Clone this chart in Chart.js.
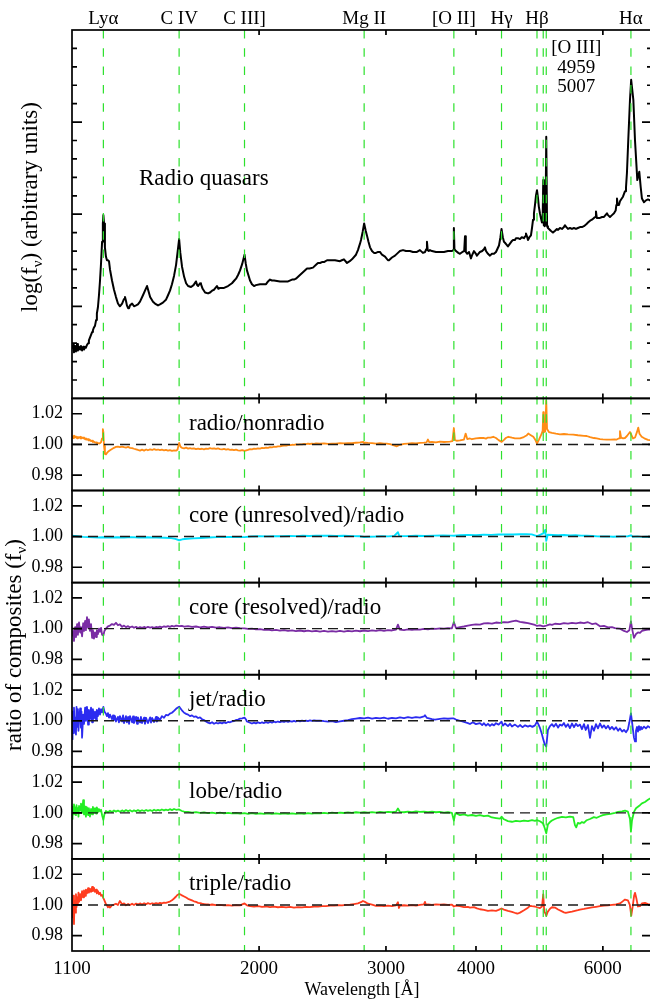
<!DOCTYPE html>
<html>
<head>
<meta charset="utf-8">
<script src="https://cdn.jsdelivr.net/npm/chart.js@4.4.1/dist/chart.umd.min.js"></script>
<style>
  html, body { margin: 0; padding: 0; background: #ffffff; overflow: hidden; }
  canvas { display: block; }
</style>
</head>
<body>
<canvas id="composites" width="656" height="1004" style="width:656px;height:1004px"></canvas>
<script>
// ---- emission lines marked across all panels (rest wavelength, Å) ----
const lineNames = ['Lyα', 'C IV', 'C III]', 'Mg II', '[O II]', 'Hγ', 'Hβ', 'Hα'];
const lineWaves = [1216, 1549, 1909, 2798, 3727, 4340, 4861, 6563];
const oiiiWaves = [4959, 5007];
const oiiiLabel = ['[O III]', '4959', '5007'];

// ---- axes ----
const waveRange = [1100, 7020];
const xTickValues = [1100, 2000, 3000, 4000, 6000];
const spectrumRange = [0, 4];
const spectrumMajorTicks = [1, 2, 3];
const spectrumMinorTicks = [0.2, 0.4, 0.6, 0.8, 1.2, 1.4, 1.6, 1.8, 2.2, 2.4, 2.6, 2.8, 3.2, 3.4, 3.6, 3.8];
const ratioRange = [0.97, 1.03];
const ratioTickValues = [0.98, 1.00, 1.02];

// ---- composite spectrum of radio quasars: [wavelength Å, log f_nu (arbitrary offset)] ----
const spectrumRadioQuasars = [
  [1100,0.54],[1104,0.58],[1107,0.50],[1111,0.57],[1114,0.51],[1118,0.59],[1121,0.52],[1125,0.56],[1129,0.53],[1132,0.57],
  [1136,0.52],[1140,0.56],[1143,0.53],[1147,0.56],[1150,0.55],[1154,0.58],[1158,0.60],[1161,0.63],[1165,0.66],[1169,0.69],
  [1173,0.72],[1176,0.74],[1180,0.77],[1184,0.79],[1188,0.85],[1191,0.92],[1195,0.99],[1199,1.12],[1203,1.28],[1207,1.47],
  [1211,1.70],[1214,1.90],[1216,1.99],[1218.5,1.90],[1222,1.64],[1226,1.54],[1230,1.50],[1234,1.50],[1238,1.49],[1242,1.40],
  [1250,1.28],[1258,1.18],[1266,1.10],[1274,1.03],[1282,1.00],[1291,1.03],[1299,1.08],[1303,1.10],[1307,1.06],[1311,1.01],
  [1316,0.98],[1320,0.98],[1324,1.01],[1333,1.03],[1341,1.00],[1350,1.01],[1358,1.02],[1367,1.05],[1380,1.12],[1389,1.17],
  [1398,1.22],[1405,1.16],[1412,1.10],[1425,1.05],[1434,1.03],[1448,1.01],[1457,1.02],[1471,1.04],[1485,1.07],[1495,1.12],
  [1504.5,1.17],[1514,1.24],[1524,1.33],[1534,1.45],[1541,1.58],[1549,1.73],[1555,1.58],[1563.5,1.43],[1574,1.32],[1584,1.25],
  [1594,1.22],[1609,1.21],[1622,1.23],[1635,1.27],[1641,1.23],[1646,1.22],[1656,1.25],[1661,1.24],[1670,1.19],[1683,1.15],
  [1699,1.14],[1710,1.15],[1721,1.17],[1732,1.18],[1748,1.22],[1756,1.19],[1765,1.20],[1788,1.20],[1811,1.22],[1834,1.25],
  [1848,1.28],[1858,1.30],[1870,1.34],[1882,1.39],[1895,1.46],[1909,1.56],[1917,1.46],[1924,1.39],[1943,1.28],[1955,1.24],
  [1968,1.22],[1980,1.23],[2006,1.24],[2032,1.24],[2045,1.24],[2058,1.27],[2071,1.29],[2084,1.28],[2098,1.28],[2138,1.27],
  [2166,1.27],[2194,1.27],[2222,1.29],[2236,1.29],[2250,1.30],[2279,1.34],[2309,1.38],[2331,1.41],[2350,1.41],[2376,1.42],
  [2399,1.45],[2414,1.47],[2430,1.47],[2445,1.48],[2461,1.48],[2485,1.50],[2525,1.50],[2549,1.50],[2590,1.49],[2605,1.50],
  [2623,1.51],[2649,1.47],[2672,1.49],[2691,1.51],[2726,1.56],[2743,1.61],[2761,1.68],[2770,1.72],[2785,1.81],[2798,1.90],
  [2812,1.82],[2823,1.77],[2837,1.70],[2851,1.64],[2869,1.60],[2887,1.58],[2906,1.58],[2925,1.59],[2943,1.59],[2962,1.56],
  [2991,1.54],[3019,1.50],[3029,1.50],[3058,1.53],[3088,1.55],[3117,1.58],[3137,1.60],[3168,1.61],[3198,1.60],[3239,1.60],
  [3270,1.59],[3302,1.59],[3312,1.59],[3344,1.61],[3376,1.58],[3400,1.59],[3412,1.62],[3420,1.70],[3428,1.61],[3440,1.60],
  [3453,1.61],[3475,1.60],[3520,1.59],[3565,1.59],[3611,1.59],[3657,1.60],[3704,1.60],[3720,1.61],[3727,1.85],[3734,1.62],
  [3752,1.60],[3780,1.58],[3800,1.57],[3830,1.59],[3852,1.60],[3862,1.76],[3872,1.59],[3890,1.57],[3912,1.59],[3936,1.52],
  [3948,1.55],[3974,1.60],[3999,1.57],[4012,1.55],[4051,1.59],[4080,1.60],[4103,1.62],[4116,1.64],[4130,1.60],[4156,1.57],
  [4183,1.55],[4209,1.57],[4237,1.57],[4264,1.59],[4305,1.66],[4325,1.75],[4340,1.84],[4358,1.75],[4374,1.70],[4388,1.69],
  [4410,1.67],[4430,1.65],[4459,1.68],[4487,1.71],[4502,1.72],[4530,1.72],[4545,1.74],[4574,1.74],[4604,1.73],[4630,1.75],
  [4663,1.74],[4680,1.76],[4693,1.79],[4708,1.76],[4723,1.72],[4745,1.75],[4768,1.77],[4784,1.85],[4800,1.94],[4814,2.01],
  [4830,2.10],[4845,2.20],[4861,2.26],[4876,2.18],[4890,2.08],[4907,2.01],[4925,1.95],[4939,1.91],[4950,1.94],[4959,2.37],
  [4968,1.88],[4983,1.87],[4995,1.90],[5007,2.84],[5020,1.87],[5034,1.85],[5051,1.84],[5080,1.82],[5099,1.81],[5116,1.80],
  [5150,1.82],[5180,1.84],[5200,1.83],[5231,1.85],[5265,1.84],[5298,1.86],[5315,1.88],[5340,1.86],[5367,1.84],[5401,1.85],
  [5436,1.84],[5470,1.85],[5506,1.84],[5540,1.85],[5577,1.86],[5612,1.86],[5648,1.87],[5690,1.89],[5721,1.91],[5760,1.93],
  [5794,1.94],[5832,1.96],[5855,1.97],[5869,2.03],[5885,1.96],[5907,1.96],[5945,1.96],[5985,1.97],[6021,1.97],[6050,1.99],
  [6079,2.01],[6099,1.99],[6138,1.97],[6177,1.99],[6217,2.01],[6250,2.04],[6265,2.10],[6277,2.17],[6290,2.10],[6317,2.10],
  [6337,2.14],[6360,2.16],[6398,2.19],[6419,2.22],[6440,2.25],[6460,2.29],[6480,2.45],[6507,2.80],[6543,3.24],[6568,3.46],
  [6614,3.24],[6649,2.80],[6698,2.37],[6741,2.46],[6772,2.29],[6798,2.17],[6842,2.13],[6886,2.15],[6930,2.16],[6975,2.15],
  [7020,2.16]
];

// ---- ratios of composites (f_nu): [wavelength Å, ratio] ----
const ratioRadioNonradio = [
  [1100,1.0055],[1104,1.0042],[1107,1.0058],[1111,1.0047],[1114,1.0052],[1118,1.0040],[1121,1.0049],[1125,1.0043],[1129,1.0050],[1132,1.0038],
  [1136,1.0045],[1140,1.0040],[1143,1.0046],[1147,1.0034],[1150,1.0040],[1154,1.0030],[1158,1.0035],[1161,1.0026],[1165,1.0030],[1169,1.0022],
  [1173,1.0025],[1176,1.0016],[1180,1.0018],[1184,1.0012],[1188,1.0014],[1191,1.0008],[1195,1.0010],[1199,1.0006],[1203,1.0008],[1207,1.0015],
  [1211,1.0040],[1214,1.0100],[1216,1.0080],[1218.5,0.9990],[1222,0.9938],[1226,0.9935],[1230,0.9945],[1234,0.9952],[1242,0.9962],[1250,0.9970],
  [1258,0.9978],[1266,0.9984],[1274,0.9986],[1282,0.9983],[1291,0.9986],[1299,0.9982],[1307,0.9980],[1316,0.9984],[1324,0.9978],[1333,0.9976],
  [1341,0.9972],[1350,0.9968],[1358,0.9964],[1367,0.9960],[1376,0.9966],[1385,0.9960],[1394,0.9967],[1402,0.9962],[1412,0.9968],[1421,0.9964],
  [1430,0.9969],[1439,0.9965],[1448,0.9967],[1457,0.9963],[1466,0.9966],[1476,0.9962],[1485,0.9965],[1495,0.9960],[1504,0.9963],[1514,0.9958],
  [1524,0.9962],[1534,0.9960],[1541,0.9965],[1549,1.0010],[1556,0.9985],[1563,0.9978],[1574,0.9975],[1584,0.9979],[1594,0.9973],[1604,0.9976],
  [1614,0.9972],[1624,0.9975],[1635,0.9970],[1646,0.9973],[1656,0.9969],[1667,0.9972],[1677,0.9968],[1688,0.9973],[1699,0.9971],[1710,0.9976],
  [1721,0.9972],[1732,0.9975],[1743,0.9971],[1754,0.9974],[1765,0.9970],[1777,0.9968],[1788,0.9971],[1800,0.9966],[1811,0.9969],[1823,0.9965],
  [1834,0.9967],[1846,0.9963],[1858,0.9966],[1870,0.9962],[1882,0.9960],[1895,0.9963],[1909,0.9958],[1920,0.9962],[1930,0.9965],[1943,0.9970],
  [1955,0.9968],[1968,0.9973],[1980,0.9971],[1993,0.9975],[2006,0.9973],[2019,0.9977],[2032,0.9976],[2045,0.9980],[2058,0.9978],[2071,0.9982],
  [2084,0.9981],[2098,0.9985],[2111,0.9984],[2124,0.9988],[2138,0.9987],[2152,0.9991],[2166,0.9993],[2180,0.9992],[2194,0.9996],[2208,0.9995],
  [2222,0.9998],[2236,0.9997],[2250,1.0000],[2265,0.9999],[2279,1.0001],[2294,1.0000],[2309,1.0003],[2323,1.0002],[2338,1.0005],[2353,1.0003],
  [2368,1.0006],[2384,1.0004],[2399,1.0007],[2430,1.0005],[2461,1.0007],[2493,1.0004],[2525,1.0006],[2557,1.0005],[2590,1.0008],[2623,1.0007],
  [2657,1.0009],[2691,1.0008],[2726,1.0011],[2761,1.0014],[2790,1.0017],[2798,1.0008],[2806,1.0012],[2833,1.0010],[2869,1.0008],[2906,1.0006],
  [2943,1.0008],[2981,1.0005],[3007,1.0006],[3040,1.0002],[3070,0.9996],[3107,0.9988],[3137,0.9998],[3178,1.0004],[3218,1.0006],[3260,1.0008],
  [3302,1.0007],[3344,1.0010],[3387,1.0012],[3415,1.0014],[3431,1.0032],[3445,1.0015],[3475,1.0016],[3520,1.0014],[3565,1.0018],[3611,1.0016],
  [3642,1.0017],[3680,1.0019],[3710,1.0022],[3727,1.0107],[3740,1.0028],[3760,1.0024],[3800,1.0026],[3849,1.0032],[3870,1.0071],[3890,1.0035],
  [3924,1.0039],[3948,1.0034],[3999,1.0040],[4051,1.0042],[4094,1.0043],[4130,1.0038],[4156,1.0045],[4190,1.0044],[4227,1.0050],[4264,1.0042],
  [4300,1.0028],[4342,1.0017],[4374,1.0030],[4400,1.0042],[4435,1.0050],[4487,1.0044],[4531,1.0040],[4604,1.0039],[4660,1.0048],[4700,1.0058],
  [4727,1.0071],[4760,1.0062],[4804,1.0050],[4835,1.0030],[4861,1.0006],[4890,1.0030],[4934,1.0070],[4950,1.0090],[4959,1.0210],[4968,1.0080],
  [4990,1.0085],[5007,1.0286],[5020,1.0100],[5050,1.0081],[5099,1.0075],[5165,1.0070],[5231,1.0066],[5298,1.0068],[5367,1.0065],[5458,1.0064],
  [5540,1.0060],[5648,1.0056],[5698,1.0055],[5760,1.0048],[5830,1.0042],[5883,1.0039],[5945,1.0035],[6000,1.0033],[6074,1.0032],[6150,1.0031],
  [6230,1.0033],[6271,1.0032],[6320,1.0040],[6337,1.0086],[6360,1.0045],[6400,1.0040],[6439,1.0042],[6480,1.0055],[6543,1.0081],[6560,1.0070],
  [6606,1.0039],[6650,1.0045],[6690,1.0080],[6719,1.0110],[6745,1.0070],[6792,1.0050],[6850,1.0040],[6930,1.0030],[6975,1.0028],[7020,1.0028]
];

const ratioCoreUnresolved = [
  [1100,1.0006],[1120,1.0002],[1140,0.9998],[1160,0.9996],[1180,0.9995],[1200,0.9994],[1216,0.9995],[1240,0.9993],[1270,0.9995],[1300,0.9994],
  [1330,0.9996],[1360,0.9994],[1400,0.9995],[1440,0.9993],[1480,0.9992],[1510,0.9990],[1530,0.9985],[1549,0.9976],[1565,0.9982],[1590,0.9986],
  [1620,0.9988],[1660,0.9991],[1700,0.9994],[1750,0.9996],[1800,0.9997],[1850,0.9998],[1909,0.9996],[1950,1.0000],[2000,1.0002],[2050,1.0001],
  [2100,1.0003],[2150,1.0002],[2200,1.0004],[2250,1.0003],[2300,1.0005],[2350,1.0004],[2400,1.0006],[2450,1.0005],[2500,1.0006],[2560,1.0004],
  [2620,1.0005],[2700,1.0003],[2760,1.0002],[2798,0.9997],[2840,0.9999],[2900,1.0000],[2960,1.0002],[3020,1.0001],[3080,1.0004],[3117,1.0028],
  [3130,1.0004],[3200,1.0003],[3300,1.0005],[3400,1.0004],[3500,1.0006],[3600,1.0007],[3700,1.0006],[3727,1.0005],[3800,1.0008],[3900,1.0010],
  [4000,1.0009],[4100,1.0012],[4200,1.0011],[4300,1.0013],[4400,1.0014],[4500,1.0013],[4600,1.0015],[4700,1.0016],[4780,1.0014],[4861,1.0003],
  [4900,1.0010],[4959,1.0020],[4990,1.0043],[5007,0.9972],[5030,1.0012],[5100,1.0010],[5200,1.0008],[5300,1.0010],[5400,1.0007],[5500,1.0008],
  [5600,1.0006],[5700,1.0005],[5800,1.0004],[5900,1.0001],[6000,1.0000],[6100,1.0001],[6200,0.9999],[6300,1.0000],[6400,1.0001],[6500,1.0002],
  [6563,1.0008],[6600,0.9999],[6700,1.0001],[6800,0.9998],[6900,0.9999],[7020,0.9998]
];

const ratioCoreResolved = [
  [1100,0.9950],[1104,0.9985],[1107,0.9920],[1111,1.0010],[1114,0.9945],[1118,1.0030],[1121,0.9960],[1125,1.0040],[1129,0.9975],[1132,1.0010],
  [1136,0.9950],[1140,1.0035],[1143,0.9985],[1147,1.0050],[1150,0.9990],[1154,1.0075],[1158,1.0005],[1161,1.0060],[1165,0.9985],[1169,1.0030],
  [1173,0.9940],[1176,0.9990],[1180,0.9935],[1184,0.9975],[1188,0.9945],[1191,0.9990],[1195,0.9965],[1199,1.0000],[1203,0.9980],[1207,1.0005],
  [1211,0.9960],[1216,0.9955],[1220,0.9985],[1226,1.0000],[1234,1.0015],[1242,1.0020],[1250,1.0030],[1258,1.0025],[1266,1.0038],[1274,1.0022],
  [1282,1.0028],[1291,1.0012],[1299,1.0020],[1307,1.0010],[1316,1.0016],[1324,1.0008],[1333,1.0014],[1341,1.0006],[1350,1.0012],[1358,1.0004],
  [1367,1.0010],[1376,1.0005],[1385,1.0011],[1394,1.0006],[1402,1.0012],[1412,1.0007],[1421,1.0010],[1430,1.0005],[1439,1.0011],[1448,1.0008],
  [1457,1.0013],[1466,1.0009],[1476,1.0015],[1485,1.0011],[1495,1.0016],[1504,1.0012],[1514,1.0018],[1524,1.0014],[1534,1.0020],[1549,1.0016],
  [1563,1.0018],[1574,1.0013],[1594,1.0016],[1614,1.0011],[1635,1.0014],[1656,1.0009],[1677,1.0013],[1699,1.0008],[1721,1.0011],[1743,1.0006],
  [1765,1.0009],[1788,1.0005],[1811,1.0008],[1834,1.0004],[1858,1.0007],[1882,1.0003],[1909,1.0002],[1930,0.9998],[1955,1.0000],[1980,0.9995],
  [2006,0.9997],[2032,0.9992],[2058,0.9994],[2084,0.9989],[2111,0.9992],[2138,0.9987],[2166,0.9990],[2194,0.9985],[2222,0.9989],[2250,0.9984],
  [2279,0.9988],[2309,0.9983],[2338,0.9987],[2368,0.9982],[2399,0.9986],[2430,0.9981],[2461,0.9985],[2493,0.9980],[2525,0.9984],[2557,0.9980],
  [2590,0.9985],[2623,0.9981],[2657,0.9986],[2691,0.9982],[2726,0.9987],[2761,0.9983],[2798,0.9988],[2833,0.9984],[2869,0.9989],[2906,0.9985],
  [2943,0.9990],[2981,0.9986],[3019,0.9991],[3058,0.9988],[3098,0.9994],[3117,1.0026],[3137,0.9993],[3178,0.9991],[3218,0.9995],[3260,0.9992],
  [3302,0.9996],[3344,0.9994],[3387,0.9998],[3431,0.9996],[3475,1.0000],[3520,0.9998],[3565,1.0002],[3611,1.0000],[3657,1.0003],[3704,1.0002],
  [3727,1.0043],[3752,1.0004],[3800,1.0010],[3849,1.0014],[3898,1.0020],[3948,1.0024],[3999,1.0028],[4051,1.0026],[4103,1.0034],[4156,1.0036],
  [4209,1.0033],[4264,1.0040],[4319,1.0038],[4374,1.0043],[4430,1.0041],[4487,1.0048],[4545,1.0052],[4604,1.0044],[4663,1.0040],[4723,1.0036],
  [4784,1.0030],[4830,1.0024],[4861,1.0018],[4907,1.0022],[4959,1.0015],[5007,1.0020],[5067,1.0028],[5099,1.0025],[5148,1.0032],[5231,1.0030],
  [5298,1.0036],[5367,1.0033],[5436,1.0038],[5506,1.0034],[5577,1.0040],[5648,1.0036],[5721,1.0042],[5794,1.0030],[5869,1.0034],[5945,1.0015],
  [6021,1.0018],[6099,1.0008],[6177,1.0010],[6237,1.0004],[6337,1.0000],[6419,0.9985],[6480,0.9978],[6530,0.9990],[6563,1.0047],[6590,0.9995],
  [6627,0.9940],[6670,0.9965],[6712,0.9975],[6755,0.9972],[6798,0.9985],[6864,0.9990],[6930,0.9994],[6975,0.9995],[7020,0.9994]
];

const ratioJet = [
  [1100,0.9880],[1102,1.0060],[1104,0.9920],[1107,1.0085],[1109,0.9950],[1111,1.0020],[1114,0.9910],[1116,1.0090],[1118,0.9960],[1121,1.0075],
  [1123,0.9935],[1125,1.0010],[1129,1.0080],[1132,0.9955],[1134,1.0060],[1136,0.9890],[1140,1.0040],[1143,0.9980],[1147,1.0085],[1150,1.0000],
  [1154,1.0090],[1158,0.9975],[1161,1.0070],[1165,1.0010],[1169,1.0085],[1173,0.9990],[1176,1.0075],[1180,1.0015],[1184,1.0060],[1188,1.0005],
  [1191,1.0070],[1195,1.0030],[1199,1.0080],[1203,1.0040],[1207,1.0075],[1211,1.0055],[1216,1.0090],[1220,1.0060],[1226,1.0045],[1230,1.0030],
  [1234,1.0050],[1238,1.0020],[1242,1.0040],[1250,1.0010],[1254,1.0035],[1258,1.0005],[1262,1.0030],[1266,0.9995],[1274,1.0025],[1278,0.9990],
  [1282,1.0030],[1291,0.9995],[1295,1.0035],[1299,0.9985],[1307,1.0030],[1311,0.9990],[1316,1.0025],[1320,0.9980],[1324,1.0030],[1333,0.9990],
  [1337,1.0028],[1341,0.9985],[1350,1.0025],[1354,0.9980],[1358,1.0022],[1367,0.9990],[1371,1.0025],[1376,0.9985],[1385,1.0020],[1389,0.9980],
  [1394,1.0018],[1402,0.9985],[1412,1.0022],[1416,0.9988],[1421,1.0018],[1430,0.9992],[1439,1.0025],[1443,0.9995],[1448,1.0020],[1457,1.0005],
  [1466,1.0030],[1476,1.0020],[1485,1.0038],[1495,1.0035],[1504,1.0047],[1514,1.0052],[1524,1.0064],[1534,1.0078],[1541,1.0085],[1549,1.0092],
  [1556,1.0080],[1563,1.0068],[1574,1.0052],[1584,1.0045],[1594,1.0040],[1604,1.0030],[1614,1.0035],[1624,1.0025],[1635,1.0028],[1646,1.0018],
  [1656,1.0022],[1667,1.0010],[1677,1.0005],[1688,0.9995],[1699,0.9988],[1710,0.9983],[1721,0.9990],[1732,0.9980],[1743,0.9987],[1754,0.9982],
  [1765,0.9988],[1777,0.9983],[1788,0.9990],[1800,0.9985],[1811,0.9992],[1823,0.9990],[1834,0.9996],[1846,0.9998],[1858,1.0005],[1870,1.0008],
  [1882,1.0014],[1895,1.0016],[1909,1.0020],[1917,1.0010],[1924,0.9995],[1943,0.9987],[1955,0.9982],[1968,0.9988],[1980,0.9983],[1993,0.9989],
  [2006,0.9984],[2019,0.9990],[2032,0.9985],[2045,0.9991],[2058,0.9986],[2071,0.9992],[2084,0.9988],[2098,0.9994],[2111,0.9990],[2124,0.9995],
  [2138,0.9991],[2152,0.9996],[2166,0.9992],[2180,0.9997],[2194,0.9993],[2208,0.9998],[2222,0.9994],[2236,0.9999],[2250,0.9995],[2265,1.0000],
  [2279,0.9996],[2294,1.0001],[2309,0.9997],[2323,1.0001],[2338,0.9998],[2353,1.0002],[2368,0.9999],[2384,1.0003],[2399,1.0000],[2430,1.0001],
  [2461,0.9997],[2493,0.9994],[2525,0.9998],[2557,0.9991],[2590,0.9996],[2623,1.0000],[2657,1.0004],[2691,1.0010],[2726,1.0014],[2761,1.0018],
  [2798,1.0016],[2833,1.0020],[2869,1.0014],[2906,1.0019],[2943,1.0015],[2981,1.0020],[3019,1.0013],[3058,1.0018],[3098,1.0015],[3137,1.0022],
  [3178,1.0017],[3218,1.0023],[3260,1.0018],[3302,1.0024],[3344,1.0020],[3387,1.0028],[3398,1.0036],[3420,1.0018],[3475,1.0010],[3508,1.0008],
  [3565,1.0012],[3611,1.0015],[3657,1.0013],[3704,1.0016],[3727,1.0015],[3752,1.0008],[3800,1.0000],[3849,0.9992],[3898,0.9985],[3924,0.9979],
  [3960,0.9990],[3999,0.9978],[4051,0.9985],[4080,0.9972],[4103,0.9984],[4130,0.9968],[4156,0.9980],[4183,0.9966],[4209,0.9978],[4237,0.9970],
  [4264,0.9984],[4300,0.9975],[4340,0.9994],[4360,0.9968],[4388,0.9982],[4430,0.9965],[4459,0.9980],[4487,0.9962],[4531,0.9975],[4574,0.9960],
  [4604,0.9972],[4640,0.9958],[4680,0.9970],[4723,0.9962],[4753,0.9968],[4790,0.9960],[4830,0.9970],[4861,0.9994],[4885,0.9975],[4910,0.9950],
  [4934,0.9918],[4959,0.9880],[4983,0.9845],[5007,0.9832],[5034,0.9940],[5067,0.9965],[5099,0.9978],[5130,0.9962],[5165,0.9980],[5200,0.9955],
  [5231,0.9975],[5265,0.9968],[5298,0.9985],[5330,0.9960],[5367,0.9978],[5400,0.9952],[5436,0.9982],[5470,0.9958],[5506,0.9980],[5540,0.9965],
  [5577,0.9975],[5612,0.9945],[5648,0.9978],[5680,0.9940],[5721,0.9972],[5758,0.9888],[5794,0.9965],[5832,0.9935],[5869,0.9978],[5907,0.9950],
  [5945,0.9982],[5985,0.9955],[6021,0.9970],[6060,0.9950],[6099,0.9968],[6138,0.9945],[6177,0.9960],[6217,0.9942],[6257,0.9958],[6300,0.9935],
  [6337,0.9950],[6380,0.9930],[6419,0.9940],[6460,0.9925],[6501,0.9945],[6530,0.9990],[6563,1.0048],[6585,0.9995],[6606,0.9940],[6627,0.9890],
  [6649,0.9865],[6670,0.9935],[6691,0.9960],[6712,0.9930],[6734,0.9965],[6755,0.9940],[6777,0.9960],[6798,0.9945],[6842,0.9962],[6886,0.9950],
  [6930,0.9965],[6975,0.9955],[7020,0.9960]
];

const ratioLobe = [
  [1100,0.9960],[1102,1.0040],[1104,0.9990],[1107,1.0055],[1109,1.0010],[1111,1.0035],[1114,0.9985],[1116,1.0050],[1118,1.0005],[1121,1.0030],
  [1123,0.9975],[1125,1.0045],[1129,1.0015],[1132,1.0060],[1136,1.0000],[1140,1.0082],[1143,0.9990],[1147,1.0040],[1150,0.9975],[1154,1.0035],
  [1158,0.9985],[1161,1.0030],[1165,0.9975],[1169,1.0025],[1173,0.9990],[1176,1.0038],[1180,1.0000],[1184,1.0030],[1188,0.9995],[1191,1.0035],
  [1195,1.0005],[1199,1.0025],[1203,1.0010],[1207,1.0020],[1211,0.9985],[1216,0.9955],[1220,0.9990],[1226,1.0012],[1234,1.0004],[1242,1.0014],
  [1250,1.0006],[1258,1.0016],[1266,1.0008],[1274,1.0015],[1282,1.0007],[1291,1.0016],[1299,1.0009],[1307,1.0018],[1316,1.0010],[1324,1.0017],
  [1333,1.0009],[1341,1.0016],[1350,1.0010],[1358,1.0018],[1367,1.0011],[1376,1.0017],[1385,1.0012],[1394,1.0019],[1402,1.0013],[1412,1.0018],
  [1421,1.0012],[1430,1.0020],[1439,1.0014],[1448,1.0019],[1457,1.0015],[1466,1.0022],[1476,1.0016],[1485,1.0021],[1495,1.0017],[1504,1.0024],
  [1514,1.0018],[1524,1.0025],[1534,1.0020],[1549,1.0022],[1563,1.0012],[1574,1.0008],[1594,1.0006],[1614,1.0002],[1635,1.0005],[1656,1.0000],
  [1677,1.0003],[1699,0.9998],[1721,1.0002],[1743,0.9997],[1765,1.0001],[1788,0.9996],[1811,1.0000],[1834,0.9996],[1858,0.9999],[1882,0.9995],
  [1909,0.9998],[1930,0.9994],[1955,0.9998],[1980,0.9994],[2006,0.9997],[2032,0.9993],[2058,0.9997],[2084,0.9993],[2111,0.9996],[2138,0.9993],
  [2166,0.9997],[2194,0.9994],[2222,0.9997],[2250,0.9993],[2279,0.9996],[2309,0.9994],[2338,0.9998],[2368,0.9995],[2399,0.9998],[2430,0.9996],
  [2461,1.0000],[2493,0.9997],[2525,1.0001],[2557,0.9998],[2590,1.0002],[2623,0.9999],[2657,1.0003],[2691,1.0000],[2726,1.0004],[2761,1.0001],
  [2798,1.0004],[2833,1.0001],[2869,1.0005],[2906,1.0002],[2943,1.0006],[2981,1.0003],[3019,1.0006],[3058,1.0004],[3098,1.0008],[3117,1.0028],
  [3137,1.0006],[3178,1.0004],[3218,1.0008],[3260,1.0005],[3302,1.0009],[3344,1.0006],[3387,1.0008],[3431,1.0005],[3475,1.0008],[3520,1.0004],
  [3565,1.0006],[3611,1.0002],[3657,1.0004],[3704,1.0000],[3727,0.9950],[3745,0.9998],[3770,0.9993],[3800,0.9985],[3849,0.9990],[3898,0.9982],
  [3948,0.9986],[3999,0.9980],[4051,0.9985],[4103,0.9978],[4156,0.9982],[4209,0.9970],[4264,0.9966],[4319,0.9962],[4340,0.9975],[4374,0.9958],
  [4430,0.9946],[4487,0.9942],[4545,0.9948],[4604,0.9945],[4663,0.9950],[4723,0.9946],[4784,0.9952],[4830,0.9948],[4861,0.9953],[4907,0.9945],
  [4959,0.9930],[4983,0.9900],[5007,0.9867],[5034,0.9925],[5067,0.9940],[5099,0.9950],[5148,0.9960],[5200,0.9968],[5265,0.9974],[5330,0.9970],
  [5400,0.9976],[5458,0.9972],[5488,0.9920],[5510,0.9905],[5540,0.9935],[5577,0.9930],[5612,0.9940],[5648,0.9935],[5698,0.9952],[5758,0.9960],
  [5830,0.9972],[5883,0.9968],[5945,0.9978],[6000,0.9985],[6074,0.9990],[6150,0.9994],[6237,1.0000],[6300,1.0006],[6380,1.0010],[6439,1.0015],
  [6500,1.0008],[6543,0.9960],[6563,0.9877],[6585,0.9950],[6627,1.0006],[6670,1.0030],[6712,1.0040],[6755,1.0050],[6798,1.0062],[6864,1.0071],
  [6930,1.0085],[6975,1.0093],[7020,1.0095]
];

const ratioTriple = [
  [1100,1.0000],[1102,0.9920],[1104,1.0060],[1107,0.9876],[1109,1.0030],[1111,0.9950],[1114,1.0070],[1116,0.9985],[1118,1.0050],[1121,1.0010],
  [1123,1.0080],[1125,1.0020],[1129,1.0070],[1132,1.0030],[1136,1.0090],[1140,1.0050],[1143,1.0095],[1147,1.0060],[1150,1.0100],[1154,1.0075],
  [1158,1.0110],[1161,1.0080],[1165,1.0105],[1169,1.0085],[1173,1.0118],[1176,1.0090],[1180,1.0112],[1184,1.0085],[1188,1.0100],[1191,1.0075],
  [1195,1.0090],[1199,1.0070],[1203,1.0080],[1207,1.0060],[1211,1.0065],[1216,1.0045],[1220,1.0030],[1226,1.0005],[1230,0.9998],[1234,0.9985],
  [1238,0.9995],[1242,0.9983],[1250,0.9998],[1258,1.0002],[1266,1.0008],[1274,1.0000],[1282,1.0026],[1291,1.0004],[1299,1.0010],[1307,0.9998],
  [1316,1.0006],[1324,0.9999],[1333,1.0008],[1341,1.0000],[1350,1.0009],[1358,1.0002],[1367,1.0010],[1376,1.0003],[1385,1.0011],[1394,1.0005],
  [1402,1.0012],[1412,1.0006],[1421,1.0011],[1430,1.0007],[1439,1.0012],[1448,1.0008],[1457,1.0013],[1466,1.0010],[1476,1.0015],[1485,1.0014],
  [1495,1.0018],[1504,1.0022],[1514,1.0030],[1524,1.0042],[1534,1.0055],[1541,1.0065],[1549,1.0072],[1556,1.0068],[1563,1.0062],[1574,1.0055],
  [1584,1.0048],[1594,1.0040],[1604,1.0035],[1614,1.0030],[1624,1.0024],[1635,1.0020],[1646,1.0014],[1656,1.0012],[1667,1.0008],[1677,1.0006],
  [1688,1.0003],[1699,1.0004],[1710,1.0001],[1721,1.0003],[1743,0.9999],[1765,1.0001],[1788,0.9997],[1811,0.9999],[1834,0.9996],[1858,0.9999],
  [1882,0.9997],[1909,1.0010],[1924,0.9998],[1943,0.9993],[1968,0.9990],[1993,0.9992],[2019,0.9988],[2045,0.9990],[2071,0.9986],[2098,0.9989],
  [2124,0.9985],[2152,0.9988],[2180,0.9984],[2208,0.9987],[2236,0.9983],[2265,0.9986],[2294,0.9984],[2323,0.9988],[2353,0.9986],[2384,0.9990],
  [2415,0.9989],[2446,0.9993],[2477,0.9992],[2509,0.9996],[2541,0.9995],[2574,0.9998],[2607,0.9997],[2640,1.0001],[2674,1.0002],[2708,1.0006],
  [2743,1.0010],[2770,1.0018],[2787,1.0026],[2805,1.0020],[2833,1.0008],[2869,1.0002],[2906,0.9994],[2943,0.9996],[2981,0.9992],[3019,0.9996],
  [3058,0.9993],[3098,0.9997],[3117,1.0018],[3127,0.9980],[3137,0.9996],[3178,0.9998],[3218,0.9995],[3260,0.9999],[3302,0.9996],[3344,1.0000],
  [3387,1.0004],[3398,1.0020],[3410,1.0000],[3431,1.0003],[3475,1.0001],[3520,1.0004],[3565,1.0002],[3611,1.0004],[3657,1.0001],[3704,1.0002],
  [3727,0.9990],[3752,0.9996],[3800,0.9992],[3849,0.9986],[3898,0.9988],[3924,0.9983],[3974,0.9986],[4012,0.9978],[4051,0.9972],[4103,0.9968],
  [4156,0.9962],[4209,0.9965],[4264,0.9962],[4300,0.9968],[4340,0.9977],[4374,0.9970],[4430,0.9962],[4487,0.9955],[4545,0.9946],[4574,0.9944],
  [4604,0.9950],[4663,0.9965],[4723,0.9982],[4753,0.9994],[4784,0.9992],[4830,0.9990],[4861,0.9985],[4907,0.9980],[4940,0.9990],[4959,1.0069],
  [4975,0.9955],[4995,0.9945],[5007,0.9929],[5030,0.9955],[5067,0.9975],[5099,0.9985],[5148,0.9983],[5200,0.9970],[5265,0.9958],[5298,0.9952],
  [5330,0.9948],[5367,0.9951],[5436,0.9957],[5488,0.9962],[5540,0.9966],[5577,0.9970],[5648,0.9974],[5721,0.9980],[5794,0.9984],[5869,0.9988],
  [5945,0.9992],[6021,0.9995],[6099,0.9997],[6177,1.0000],[6257,1.0003],[6337,1.0010],[6398,1.0025],[6439,1.0035],[6500,1.0030],[6540,1.0000],
  [6570,0.9930],[6600,0.9990],[6630,1.0060],[6649,1.0079],[6680,1.0040],[6712,0.9990],[6755,0.9992],[6800,1.0010],[6864,1.0014],[6930,1.0005],
  [6975,1.0003],[7020,1.0004]
];

// ---- panels, top to bottom ----
const SERIF = '"Liberation Serif", "Times New Roman", Times, serif';
const panels = [
  { id: 'ySpec',   label: 'Radio quasars',           data: spectrumRadioQuasars, color: '#000000', width: 2.0 },
  { id: 'yRadio',  label: 'radio/nonradio',          data: ratioRadioNonradio,   color: '#ff8c14', width: 1.8 },
  { id: 'yCoreU',  label: 'core (unresolved)/radio', data: ratioCoreUnresolved,  color: '#00e0ff', width: 1.9 },
  { id: 'yCoreR',  label: 'core (resolved)/radio',   data: ratioCoreResolved,    color: '#7a2ca4', width: 1.8 },
  { id: 'yJet',    label: 'jet/radio',               data: ratioJet,             color: '#2b2bf0', width: 1.8 },
  { id: 'yLobe',   label: 'lobe/radio',              data: ratioLobe,            color: '#22ee22', width: 1.8 },
  { id: 'yTriple', label: 'triple/radio',            data: ratioTriple,          color: '#ff3c1e', width: 1.8 }
];

const scales = {
  x: {
    type: 'logarithmic',
    position: 'bottom',
    min: waveRange[0],
    max: waveRange[1],
    afterBuildTicks: s => { s.ticks = xTickValues.map(v => ({ value: v })); },
    afterFit: s => { s.height = 53; },
    grid: { display: false, drawTicks: false },
    border: { display: false },
    ticks: {
      autoSkip: false, maxRotation: 0, minRotation: 0, padding: 7,
      color: '#000', font: { family: SERIF, size: 19 },
      callback: v => String(v)
    },
    title: {
      display: true, text: 'Wavelength [Å]', color: '#000',
      font: { family: SERIF, size: 18 }, padding: { top: 0, bottom: 3 }
    }
  }
};

panels.forEach((p, i) => {
  const isSpec = i === 0;
  scales[p.id] = {
    type: 'linear',
    position: 'left',
    stack: 'panels',
    stackWeight: isSpec ? 4 : 1,
    weight: panels.length - i,
    min: isSpec ? spectrumRange[0] : ratioRange[0],
    max: isSpec ? spectrumRange[1] : ratioRange[1],
    afterBuildTicks: s => { s.ticks = (isSpec ? spectrumMajorTicks : ratioTickValues).map(v => ({ value: v })); },
    afterFit: s => { s.width = 72; },
    grid: { display: false, drawTicks: false },
    border: { display: false },
    ticks: {
      display: !isSpec, autoSkip: false, padding: 9, color: '#000',
      font: { family: SERIF, size: 18 },
      callback: v => Number(v).toFixed(2)
    }
  };
});

// text with a subscript piece; parts = [{t, size, dy}]
function drawRichText(ctx, parts, cx, cy, rotate) {
  ctx.save();
  ctx.translate(cx, cy);
  if (rotate) ctx.rotate(-Math.PI / 2);
  ctx.textBaseline = 'alphabetic';
  ctx.textAlign = 'left';
  let total = 0;
  parts.forEach(p => { ctx.font = p.size + 'px ' + SERIF; p.w = ctx.measureText(p.t).width; total += p.w; });
  let x = -total / 2;
  parts.forEach(p => {
    ctx.font = p.size + 'px ' + SERIF;
    ctx.fillText(p.t, x, p.dy || 0);
    x += p.w;
  });
  ctx.restore();
}

const panelDecor = {
  id: 'panelDecor',
  afterDatasetsDraw(chart) {
    const { ctx, chartArea } = chart;
    const { left, right, top, bottom } = chartArea;
    const xs = chart.scales.x;
    ctx.save();

    // unity reference in each ratio panel
    ctx.setLineDash([10, 6]);
    ctx.lineWidth = 1.4;
    ctx.strokeStyle = '#1a1a1a';
    panels.slice(1).forEach(p => {
      const y = chart.scales[p.id].getPixelForValue(1);
      ctx.beginPath(); ctx.moveTo(left, y); ctx.lineTo(right, y); ctx.stroke();
    });

    // emission-line markers through every panel
    ctx.setLineDash([8.5, 9.8]);
    ctx.strokeStyle = 'rgb(45,225,45)';
    ctx.lineWidth = 1.2;
    lineWaves.concat(oiiiWaves).forEach(w => {
      const x = xs.getPixelForValue(w);
      ctx.beginPath(); ctx.moveTo(x, top); ctx.lineTo(x, bottom); ctx.stroke();
    });
    ctx.setLineDash([]);

    // panel frames and inward tick marks
    ctx.strokeStyle = '#000';
    ctx.lineWidth = 1.7;
    panels.forEach((p, i) => {
      const s = chart.scales[p.id];
      ctx.strokeRect(left, s.top, right - left, s.bottom - s.top);
      ctx.beginPath();
      xTickValues.slice(1).forEach(v => {
        const x = xs.getPixelForValue(v);
        ctx.moveTo(x, s.top); ctx.lineTo(x, s.top + 5);
        ctx.moveTo(x, s.bottom); ctx.lineTo(x, s.bottom - 5);
      });
      const majors = i === 0 ? spectrumMajorTicks : ratioTickValues;
      majors.forEach(v => {
        const y = s.getPixelForValue(v);
        ctx.moveTo(left, y); ctx.lineTo(left + 10, y);
        ctx.moveTo(right, y); ctx.lineTo(right - 10, y);
      });
      if (i === 0) {
        spectrumMinorTicks.forEach(v => {
          const y = s.getPixelForValue(v);
          ctx.moveTo(left, y); ctx.lineTo(left + 5, y);
          ctx.moveTo(right, y); ctx.lineTo(right - 5, y);
        });
      }
      ctx.stroke();
    });

    // line names above the frame
    ctx.fillStyle = '#000';
    ctx.font = '19px ' + SERIF;
    ctx.textAlign = 'center';
    ctx.textBaseline = 'alphabetic';
    lineNames.forEach((n, k) => ctx.fillText(n, xs.getPixelForValue(lineWaves[k]), top - 6));
    const oiiiX = xs.getPixelForValue(oiiiWaves[1]) + 30;
    oiiiLabel.forEach((t, k) => ctx.fillText(t, oiiiX, top + 23 + k * 19.5));

    // panel captions
    ctx.textAlign = 'left';
    ctx.font = '23px ' + SERIF;
    ctx.fillText(panels[0].label, left + 67, top + 155);
    panels.slice(1).forEach(p => {
      const s = chart.scales[p.id];
      ctx.fillText(p.label, left + 117, s.top + 31.5);
    });

    // axis titles
    drawRichText(ctx, [
      { t: 'log(f', size: 23 }, { t: 'ν', size: 15, dy: 5 }, { t: ') (arbitrary units)', size: 23 }
    ], 37, 207, true);
    drawRichText(ctx, [
      { t: 'ratio of composites (f', size: 23 }, { t: 'ν', size: 15, dy: 5 }, { t: ')', size: 23 }
    ], 21, 645, true);

    ctx.restore();
  }
};

new Chart(document.getElementById('composites'), {
  type: 'line',
  data: {
    datasets: panels.map(p => ({
      label: p.label,
      data: p.data.map(([x, y]) => ({ x, y })),
      xAxisID: 'x',
      yAxisID: p.id,
      borderColor: p.color,
      borderWidth: p.width,
      borderJoinStyle: 'round',
      pointRadius: 0,
      fill: false,
      tension: 0
    }))
  },
  options: {
    responsive: false,
    animation: false,
    devicePixelRatio: 1,
    events: [],
    layout: { padding: { top: 30, left: 0, right: 4, bottom: 0 } },
    plugins: { legend: { display: false }, tooltip: { enabled: false } },
    scales
  },
  plugins: [panelDecor]
});
</script>
</body>
</html>
